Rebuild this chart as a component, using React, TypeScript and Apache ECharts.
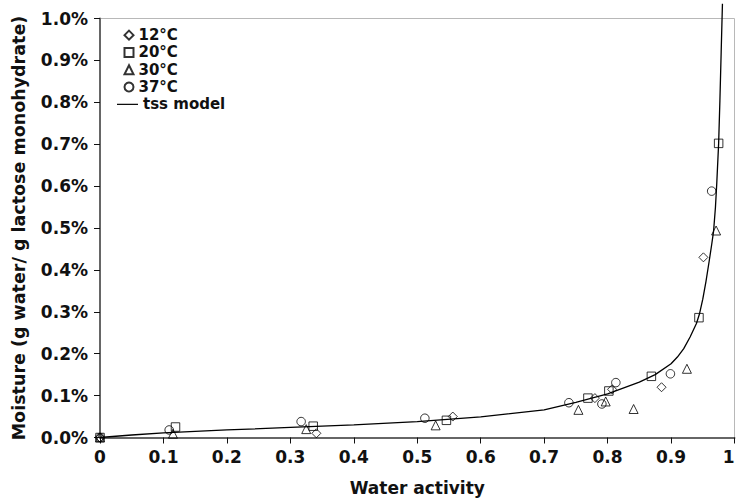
import React, { useEffect, useRef } from "react";
import * as echarts from "echarts";

// Water activity (x) and moisture in % (y)
const aw12 = [0, 0.341, 0.556, 0.780, 0.807, 0.885, 0.951];
const m12 = [0, 0.010, 0.050, 0.094, 0.115, 0.120, 0.430];

const aw20 = [0, 0.119, 0.336, 0.546, 0.769, 0.802, 0.869, 0.944, 0.975];
const m20 = [0, 0.025, 0.027, 0.041, 0.094, 0.111, 0.146, 0.286, 0.702];

const aw30 = [0, 0.115, 0.325, 0.529, 0.754, 0.797, 0.841, 0.925, 0.971];
const m30 = [0, 0.009, 0.020, 0.029, 0.066, 0.086, 0.068, 0.164, 0.494];

const aw37 = [0, 0.109, 0.317, 0.512, 0.739, 0.791, 0.813, 0.899, 0.964];
const m37 = [0, 0.018, 0.038, 0.046, 0.083, 0.080, 0.131, 0.152, 0.588];

const awModel = [0, 0.05, 0.1, 0.2, 0.3, 0.4, 0.5, 0.6, 0.7, 0.75, 0.8, 0.85, 0.875, 0.9, 0.91, 0.92, 0.93, 0.94, 0.945, 0.95, 0.955, 0.96, 0.964, 0.967, 0.97, 0.972, 0.975, 0.977, 0.979, 0.981];
const mModel = [0, 0.006, 0.011, 0.018, 0.024, 0.030, 0.038, 0.049, 0.066, 0.084, 0.104, 0.132, 0.150, 0.176, 0.192, 0.212, 0.240, 0.272, 0.296, 0.330, 0.372, 0.420, 0.460, 0.492, 0.550, 0.605, 0.702, 0.804, 0.92, 1.035];

const xTicks = ["0", "0.1", "0.2", "0.3", "0.4", "0.5", "0.6", "0.7", "0.8", "0.9", "1"];

const seriesNames = ["12°C", "20°C", "30°C", "37°C", "tss model"];

const zip = (xs: number[], ys: number[]) => xs.map((x, i) => [x, ys[i]]);

const FONT = "DejaVu Sans";

export default function App() {
  const ref = useRef<HTMLDivElement>(null);
  useEffect(() => {
    if (!ref.current) return;
    const chart = echarts.init(ref.current, undefined, { renderer: "svg" });
    const markerStyle = { color: "transparent", borderColor: "#000", borderWidth: 1 };
    const scatter = (name: string, symbol: string, data: number[][], size: number) => ({
      name,
      type: "scatter",
      symbol,
      symbolSize: size,
      itemStyle: markerStyle,
      data,
      z: 3,
    });
    const legendText = {
      fontFamily: FONT,
      fontWeight: "bold",
      fontSize: 15,
      color: "#111",
      lineHeight: 17.3,
    };
    chart.setOption({
      animation: false,
      backgroundColor: "#fff",
      grid: {
        left: 100,
        right: 2.5,
        top: 18.5,
        bottom: 63.5,
        outerBoundsMode: "none",
        containLabel: false,
        show: true,
        borderColor: "#b8b8b8",
        borderWidth: 1,
        backgroundColor: "transparent",
      },
      legend: [
        {
          orient: "vertical",
          left: 118.5,
          top: 21.5,
          itemWidth: 9,
          itemHeight: 9,
          itemGap: 0,
          itemTextGap: 12.5,
          data: seriesNames.slice(0, 4),
          textStyle: legendText,
        },
        {
          orient: "vertical",
          left: 112,
          top: 21.5 + 4 * 17.3,
          itemWidth: 21,
          itemHeight: 1.2,
          itemGap: 0,
          itemTextGap: 6,
          data: [{ name: seriesNames[4], icon: "rect" }],
          itemStyle: { color: "#000", borderWidth: 0 },
          lineStyle: { color: "#000", width: 0 },
          textStyle: legendText,
        },
      ],
      xAxis: {
        type: "value",
        min: 0,
        max: 1,
        interval: 0.1,
        name: "Water activity",
        nameLocation: "middle",
        nameGap: 42,
        nameTextStyle: { fontFamily: FONT, fontWeight: "bold", fontSize: 17, color: "#111" },
        axisLine: { show: true, lineStyle: { color: "#666", width: 2 } },
        axisTick: { show: true, length: 6, lineStyle: { color: "#111", width: 1 } },
        axisLabel: {
          margin: 11,
          fontFamily: FONT,
          fontWeight: "bold",
          fontSize: 17,
          color: "#111",
          alignMaxLabel: "right",
          formatter: (v: number) => xTicks[Math.round(v * 10)],
        },
        splitLine: { show: false },
      },
      yAxis: {
        type: "value",
        min: 0,
        max: 1,
        interval: 0.1,
        name: "Moisture (g water/ g lactose monohydrate)",
        nameLocation: "middle",
        nameGap: 72,
        nameTextStyle: { fontFamily: FONT, fontWeight: "bold", fontSize: 17.5, color: "#111" },
        axisLine: { show: true, lineStyle: { color: "#666", width: 2 } },
        axisTick: { show: true, length: 6, lineStyle: { color: "#111", width: 1 } },
        axisLabel: {
          margin: 12,
          fontFamily: FONT,
          fontWeight: "bold",
          fontSize: 17,
          color: "#111",
          formatter: (v: number) => v.toFixed(1) + "%",
        },
        splitLine: { show: false },
      },
      series: [
        scatter(seriesNames[0], "diamond", zip(aw12, m12), 9),
        scatter(seriesNames[1], "rect", zip(aw20, m20), 8.5),
        scatter(seriesNames[2], "triangle", zip(aw30, m30), 9),
        scatter(seriesNames[3], "circle", zip(aw37, m37), 8.5),
        {
          name: seriesNames[4],
          type: "line",
          symbol: "none",
          showSymbol: false,
          clip: false,
          lineStyle: { color: "#000", width: 1.3 },
          itemStyle: { color: "#000" },
          data: zip(awModel, mModel),
          z: 2,
        },
      ],
    });
    return () => chart.dispose();
  }, []);
  return <div ref={ref} style={{ width: 737, height: 501, position: "absolute", left: 0, top: 0 }} />;
}
